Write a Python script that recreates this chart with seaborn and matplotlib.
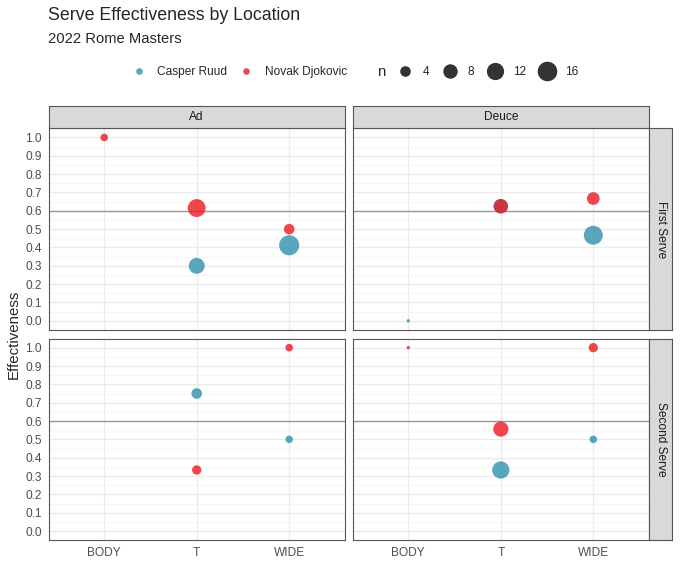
import numpy as np
import pandas as pd
import seaborn as sns
import matplotlib.pyplot as plt
from matplotlib.lines import Line2D

sns.set_style("white")
plt.rcParams['font.family'] = ['Liberation Sans', 'DejaVu Sans']

# data
side = ['Ad', 'Ad', 'Ad', 'Ad', 'Ad',
        'Deuce', 'Deuce', 'Deuce', 'Deuce', 'Deuce',
        'Ad', 'Ad', 'Ad', 'Ad',
        'Deuce', 'Deuce', 'Deuce', 'Deuce', 'Deuce']
serve = ['First Serve'] * 10 + ['Second Serve'] * 9
location = ['BODY', 'T', 'T', 'WIDE', 'WIDE',
            'BODY', 'T', 'T', 'WIDE', 'WIDE',
            'WIDE', 'T', 'WIDE', 'T',
            'BODY', 'WIDE', 'T', 'T', 'WIDE']
player = ['Novak Djokovic', 'Novak Djokovic', 'Casper Ruud', 'Novak Djokovic', 'Casper Ruud',
          'Casper Ruud', 'Casper Ruud', 'Novak Djokovic', 'Novak Djokovic', 'Casper Ruud',
          'Novak Djokovic', 'Casper Ruud', 'Casper Ruud', 'Novak Djokovic',
          'Novak Djokovic', 'Novak Djokovic', 'Novak Djokovic', 'Casper Ruud', 'Casper Ruud']
effectiveness = [1.0, 0.615, 0.30, 0.50, 0.412,
                 0.0, 0.625, 0.625, 0.667, 0.467,
                 1.0, 0.75, 0.50, 0.333,
                 1.0, 1.0, 0.556, 0.333, 0.50]
n = [2, 13, 10, 4, 17,
     1, 8, 8, 6, 15,
     2, 4, 2, 3,
     1, 3, 9, 12, 2]

locations = ['BODY', 'T', 'WIDE']
sides = ['Ad', 'Deuce']
serves = ['First Serve', 'Second Serve']
players = ['Casper Ruud', 'Novak Djokovic']
colors = {'Casper Ruud': '#3090AE', 'Novak Djokovic': '#EA1A22'}
legend_n = [4, 8, 12, 16]

df = pd.DataFrame({'side': side, 'serve': serve,
                   'location': pd.Categorical(location, categories=locations, ordered=True),
                   'player': player, 'effectiveness': effectiveness, 'n': n})

# ggplot-like area scale: diameter grows with sqrt of rescaled n
n_lo, n_hi = 1, 17
def diam_pt(v):
    return 3.35 * 0.72 * (1 + 5 * np.sqrt((v - n_lo) / (n_hi - n_lo)))
size_map = {v: diam_pt(v) ** 2 for v in range(n_lo, n_hi + 1)}

W, H = 680, 583
fig = plt.figure(figsize=(W / 100, H / 100), dpi=100)

def px_axes(l, t, w, h):
    return fig.add_axes([l / W, 1 - (t + h) / H, w / W, h / H])

lefts = [48.7, 352.8]
tops = [128.3, 338.5]
pw, ph = 296.0, 201.7
border = '#555555'
tick_fs = 8.6
strip_fs = 8.6

for i, sv in enumerate(serves):
    for j, sd in enumerate(sides):
        ax = px_axes(lefts[j], tops[i], pw, ph)
        sub = df[(df.serve == sv) & (df.side == sd)]
        ax.set_axisbelow(True)
        ax.axhline(0.6, color='#9A9A9A', lw=1.0, zorder=1.5)
        sns.scatterplot(data=sub, x='location', y='effectiveness', hue='player',
                        hue_order=players, palette=colors, size='n', sizes=size_map,
                        alpha=0.8, edgecolor='none', linewidth=0, legend=False,
                        ax=ax, zorder=3)
        ax.set_xlim(-0.6, 2.6)
        ax.set_ylim(-0.05, 1.05)
        ax.set_xticks(range(len(locations)))
        ax.set_yticks(np.round(np.arange(0, 1.01, 0.1), 1))
        ax.set_yticks(np.arange(0.05, 1.0, 0.1), minor=True)
        ax.grid(axis='y', which='major', color='#EBEBEB', lw=1.0)
        ax.grid(axis='y', which='minor', color='#F4F4F4', lw=0.6)
        ax.grid(axis='x', which='major', color='#EBEBEB', lw=1.0)
        ax.set_xlabel('')
        ax.set_ylabel('')
        ax.tick_params(which='minor', length=0)
        ax.tick_params(which='major', direction='out', length=2.75, width=0.5,
                       color='#333333', labelcolor='#4D4D4D', labelsize=tick_fs, pad=2.2)
        if i == 1:
            ax.set_xticklabels(locations)
        else:
            ax.set_xticklabels([])
            ax.tick_params(axis='x', length=0)
        if j == 0:
            ax.set_yticklabels([f'{v:.1f}' for v in ax.get_yticks()])
        else:
            ax.set_yticklabels([])
            ax.tick_params(axis='y', length=0)
        for sp in ax.spines.values():
            sp.set_color(border)
            sp.set_linewidth(0.8)
            sp.set_visible(True)

# facet strips
for j, sd in enumerate(sides):
    sax = px_axes(lefts[j], 105.7, pw, 22.6)
    sax.set_facecolor('#D9D9D9')
    sax.set_xticks([]); sax.set_yticks([])
    for sp in sax.spines.values():
        sp.set_color(border); sp.set_linewidth(0.8); sp.set_visible(True)
    sax.text(0.5, 0.5, sd, ha='center', va='center', fontsize=strip_fs, color='#1A1A1A',
             transform=sax.transAxes)
for i, sv in enumerate(serves):
    sax = px_axes(649.3, tops[i], 23, ph)
    sax.set_facecolor('#D9D9D9')
    sax.set_xticks([]); sax.set_yticks([])
    for sp in sax.spines.values():
        sp.set_color(border); sp.set_linewidth(0.8); sp.set_visible(True)
    sax.text(0.5, 0.5, sv, ha='center', va='center', rotation=-90, fontsize=strip_fs,
             color='#1A1A1A', transform=sax.transAxes)

# titles
fig.text(48.5 / W, 1 - 20.5 / H, 'Serve Effectiveness by Location', fontsize=12.8,
         va='baseline', ha='left')
fig.text(48.5 / W, 1 - 43 / H, '2022 Rome Masters', fontsize=10.6,
         va='baseline', ha='left')
fig.text(14 / W, 1 - 334 / H, 'Effectiveness', rotation=90, fontsize=10.8,
         ha='center', va='center')

# legends
fs = 8.6
h1 = [Line2D([], [], ls='', marker='o', markersize=diam_pt(1.6), color=colors[p],
             alpha=0.8, markeredgewidth=0) for p in players]
leg1 = fig.legend(h1, players, loc='center left', bbox_to_anchor=(133 / W, 1 - 72 / H),
                  ncol=2, frameon=False, fontsize=fs, handlelength=1.0,
                  handletextpad=1.04, columnspacing=1.1, borderpad=0, borderaxespad=0)
h2 = [Line2D([], [], ls='', marker='o', markersize=diam_pt(v), color='black',
             alpha=0.8, markeredgewidth=0) for v in legend_n]
leg2 = fig.legend(h2, [str(v) for v in legend_n], loc='center left',
                  bbox_to_anchor=(395.2 / W, 1 - 72 / H), ncol=4, frameon=False,
                  fontsize=fs, handlelength=1.6, handletextpad=0.7,
                  columnspacing=0.92, borderpad=0, borderaxespad=0)
fig.text(377 / W, 1 - 72 / H, 'n', fontsize=10.8, ha='left', va='center')

fig.savefig('out.png', dpi=100)
